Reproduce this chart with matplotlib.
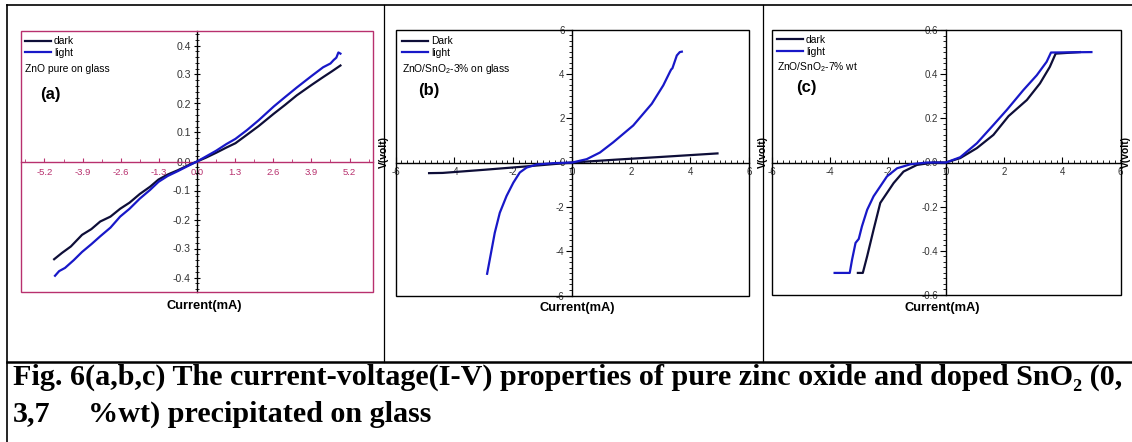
import numpy as np
import matplotlib
matplotlib.use("Agg")
import matplotlib.pyplot as plt
from matplotlib.patches import Rectangle
from matplotlib.lines import Line2D
from matplotlib.ticker import MultipleLocator, FuncFormatter

plt.rcParams['font.family'] = ['Liberation Sans', 'DejaVu Sans']
plt.rcParams['axes.unicode_minus'] = False
plt.rcParams['mathtext.fontset'] = 'custom'
plt.rcParams['mathtext.rm'] = 'Liberation Sans'
plt.rcParams['mathtext.it'] = 'Liberation Sans:italic'
plt.rcParams['mathtext.bf'] = 'Liberation Sans:bold'

# ---- data (current in mA, voltage in V) ----
a_dark_x = [-4.87, -4.6, -4.3, -3.92, -3.6, -3.3, -2.95, -2.62, -2.3, -1.95, -1.6, -1.31,
            -1.0, -0.65, -0.3, 0.0, 0.3, 0.65, 1.0, 1.31, 1.7, 2.1, 2.62, 3.0, 3.4, 3.92,
            4.3, 4.6, 4.89]
a_dark_y = [-0.337, -0.315, -0.293, -0.253, -0.233, -0.207, -0.19, -0.163, -0.142, -0.112,
            -0.087, -0.062, -0.045, -0.03, -0.013, 0.0, 0.013, 0.03, 0.048, 0.063, 0.092,
            0.122, 0.165, 0.195, 0.228, 0.265, 0.291, 0.311, 0.331]
a_light_x = [-4.84, -4.7, -4.5, -4.2, -3.92, -3.6, -3.3, -2.95, -2.62, -2.3, -1.95, -1.6,
             -1.31, -1.0, -0.65, -0.3, 0.0, 0.3, 0.65, 1.0, 1.31, 1.7, 2.1, 2.62, 3.0, 3.4,
             3.92, 4.3, 4.55, 4.66, 4.75, 4.82, 4.89]
a_light_y = [-0.394, -0.378, -0.367, -0.34, -0.312, -0.285, -0.258, -0.228, -0.19, -0.163,
             -0.128, -0.098, -0.07, -0.05, -0.033, -0.015, 0.0, 0.017, 0.037, 0.06, 0.078,
             0.108, 0.142, 0.19, 0.222, 0.255, 0.296, 0.325, 0.338, 0.35, 0.358, 0.376, 0.372]

b_dark_x = [-4.86, -4.4, -3.0, -1.5, 0.0, 1.5, 3.0, 4.93]
b_dark_y = [-0.48, -0.47, -0.33, -0.17, 0.0, 0.13, 0.25, 0.41]
b_light_x = [-2.89, -2.8, -2.63, -2.46, -2.23, -2.0, -1.78, -1.55, -1.21, -0.65, 0.0, 0.49,
             0.94, 1.39, 2.07, 2.7, 3.09, 3.32, 3.36, 3.4, 3.55, 3.65, 3.72]
b_light_y = [-5.02, -4.38, -3.17, -2.27, -1.51, -0.91, -0.45, -0.23, -0.09, -0.03, 0.0, 0.15,
             0.45, 0.91, 1.67, 2.65, 3.48, 4.1, 4.2, 4.25, 4.83, 4.98, 5.0]

c_dark_x = [-3.03, -2.86, -2.71, -2.49, -2.26, -2.03, -1.8, -1.46, -1.0, -0.43, 0.0, 0.49,
            1.06, 1.63, 2.15, 2.78, 3.23, 3.57, 3.77, 4.6]
c_dark_y = [-0.5, -0.5, -0.424, -0.304, -0.183, -0.138, -0.093, -0.041, -0.011, 0.0, 0.0,
            0.02, 0.065, 0.125, 0.21, 0.283, 0.358, 0.433, 0.493, 0.5]
c_light_x = [-3.83, -3.31, -3.23, -3.11, -3.0, -2.89, -2.71, -2.49, -2.26, -2.03, -1.68,
             -1.22, -0.65, 0.0, 0.49, 1.06, 1.63, 2.09, 2.66, 3.12, 3.46, 3.61, 5.0]
c_light_y = [-0.5, -0.5, -0.44, -0.364, -0.346, -0.289, -0.214, -0.153, -0.108, -0.063,
             -0.026, -0.008, 0.0, 0.0, 0.024, 0.087, 0.17, 0.238, 0.328, 0.395, 0.456,
             0.498, 0.5]

panels = [
    dict(dx=a_dark_x, dy=a_dark_y, lx=a_light_x, ly=a_light_y,
         labels=['dark', 'light'], sample='ZnO pure on glass', tag='(a)'),
    dict(dx=b_dark_x, dy=b_dark_y, lx=b_light_x, ly=b_light_y,
         labels=['Dark', 'light'], sample='ZnO/SnO$_2$-3% on glass', tag='(b)'),
    dict(dx=c_dark_x, dy=c_dark_y, lx=c_light_x, ly=c_light_y,
         labels=['dark', 'light'], sample='ZnO/SnO$_2$-7% wt', tag='(c)'),
]

W, H = 1132, 442
DARK = '#0e0e38'
LIGHT = '#1818c8'
PINK = '#b8306e'
GREY = '#333333'

fig = plt.figure(figsize=(W / 100, H / 100), dpi=100)


def fx(x):
    return x / W


def fy(y):
    return 1 - y / H


def box(x0, y0, x1, y1):
    return [fx(x0), fy(y1), (x1 - x0) / W, (y1 - y0) / H]


# table lines
for xs, ys, lw in [([7, 7], [5, 442], 1.2), ([7, 1132], [5, 5], 1.2),
                   ([384, 384], [5, 362], 0.9), ([763, 763], [5, 362], 0.9),
                   ([7, 1132], [362, 362], 1.8)]:
    fig.add_artist(Line2D([fx(v) for v in xs], [fy(v) for v in ys], color='black', lw=lw))

# axes boxes in pixels
rects = [(21, 31, 373, 292), (395.5, 29.5, 749, 295.5), (771.5, 30, 1120.5, 295)]
leg_pos = [(25, 36.5), (402, 36.5), (777, 35)]
sample_pos = [(25, 69.5), (402, 69.3), (777, 66.7)]
tag_pos = [(40, 95), (418, 90), (796, 87.3)]
cur_pos = [(204, 306), (577, 308), (942, 308)]

for i, (p, r) in enumerate(zip(panels, rects)):
    ax = fig.add_axes(box(*r))
    ax.set_facecolor('none')
    ax.set_xlim(-6, 6)
    if i == 0:
        ax.set_ylim(-0.45, 0.45)
        frame = PINK
    elif i == 1:
        ax.set_ylim(-6, 6)
        frame = 'black'
    else:
        ax.set_ylim(-0.6, 0.6)
        frame = 'black'

    ax.plot(p['dx'], p['dy'], color=DARK, lw=1.6, label=p['labels'][0], zorder=3)
    ax.plot(p['lx'], p['ly'], color=LIGHT, lw=1.6, label=p['labels'][1], zorder=4)

    for s in ['top', 'right']:
        ax.spines[s].set_visible(False)
    ax.spines['left'].set_position(('data', 0))
    ax.spines['bottom'].set_position(('data', 0))
    ax.spines['left'].set_color('black')
    ax.spines['bottom'].set_color(PINK if i == 0 else 'black')
    ax.spines['left'].set_linewidth(1.0)
    ax.spines['bottom'].set_linewidth(1.0)
    ax.add_patch(Rectangle((0, 0), 1, 1, transform=ax.transAxes, fill=False,
                           ec=frame, lw=1.0, clip_on=False, zorder=5))

    if i == 0:
        ax.xaxis.set_major_locator(MultipleLocator(1.3))
        ax.xaxis.set_minor_locator(MultipleLocator(0.65))
        ax.yaxis.set_major_locator(MultipleLocator(0.1))
        ax.yaxis.set_minor_locator(MultipleLocator(0.02))
        fmt = FuncFormatter(lambda v, pos: '%.1f' % (0.0 if abs(v) < 1e-9 else v))
        ax.xaxis.set_major_formatter(fmt)
        ax.yaxis.set_major_formatter(fmt)
        ax.tick_params(axis='x', which='both', direction='in', colors=PINK,
                       labelsize=6.8, pad=5)
        ax.tick_params(axis='x', which='major', length=3)
        ax.tick_params(axis='x', which='minor', length=2)
        ax.tick_params(axis='y', which='both', direction='inout', color='black',
                       labelcolor=GREY, labelsize=7.6, pad=2)
        ax.tick_params(axis='y', which='major', length=5)
        ax.tick_params(axis='y', which='minor', length=3)
    else:
        ax.xaxis.set_major_locator(MultipleLocator(2))
        ax.xaxis.set_minor_locator(MultipleLocator(0.2))
        if i == 1:
            ax.yaxis.set_major_locator(MultipleLocator(2))
            ax.yaxis.set_minor_locator(MultipleLocator(0.25))
            ax.yaxis.set_major_formatter(FuncFormatter(lambda v, pos: '%d' % round(v)))
        else:
            ax.yaxis.set_major_locator(MultipleLocator(0.2))
            ax.yaxis.set_minor_locator(MultipleLocator(0.025))
            ax.yaxis.set_major_formatter(
                FuncFormatter(lambda v, pos: '%.1f' % (0.0 if abs(v) < 1e-9 else v)))
        ax.xaxis.set_major_formatter(FuncFormatter(lambda v, pos: '%d' % round(v)))
        ax.tick_params(axis='x', which='both', direction='in', color='black',
                       labelcolor=GREY, labelsize=7, pad=3)
        ax.tick_params(axis='x', which='major', length=4)
        ax.tick_params(axis='x', which='minor', length=2.5)
        ax.tick_params(axis='y', which='both', direction='out', color='black',
                       labelcolor=GREY, labelsize=7, pad=1.5)
        ax.tick_params(axis='y', which='major', length=4)
        ax.tick_params(axis='y', which='minor', length=2.5)

    lx, ly = leg_pos[i]
    ax.legend(loc='upper left', bbox_to_anchor=(fx(lx), fy(ly)),
              bbox_transform=fig.transFigure, frameon=False, fontsize=7.4,
              handlelength=2.5, handletextpad=0.3, labelspacing=0.15,
              borderpad=0, borderaxespad=0)
    sx, sy = sample_pos[i]
    fig.text(fx(sx), fy(sy), p['sample'], fontsize=7.4, ha='left', va='center')
    tx, ty = tag_pos[i]
    fig.text(fx(tx), fy(ty), p['tag'], fontsize=12, fontweight='bold',
             ha='left', va='center')
    cx, cy = cur_pos[i]
    fig.text(fx(cx), fy(cy), 'Current(mA)', fontsize=9.3, fontweight='bold',
             ha='center', va='center')

# y labels at the cell edges (cropped in the source image)
for vx in [384, 763, 1126]:
    fig.text(fx(vx), fy(152), 'V(volt)', fontsize=7.4, fontweight='bold',
             rotation=90, ha='center', va='center')

# caption
serif = ['Liberation Serif', 'DejaVu Serif']
cap1 = fig.text(fx(13), fy(385), 'Fig. 6(a,b,c) The current-voltage(I-V) properties of pure '
                'zinc oxide and doped SnO\u2082 (0,', family=serif, fontweight='bold',
                fontsize=19, ha='left', va='baseline')
fig.canvas.draw()
bb = cap1.get_window_extent()
size = 19 * (1122 - 13) / bb.width
cap1.set_fontsize(size)
fig.text(fx(13), fy(421.5), '3,7', family=serif, fontweight='bold', fontsize=size,
         ha='left', va='baseline')
fig.text(fx(88), fy(421.5), '%wt) precipitated on glass', family=serif, fontweight='bold',
         fontsize=size, ha='left', va='baseline')

fig.savefig('out.png', dpi=100)
